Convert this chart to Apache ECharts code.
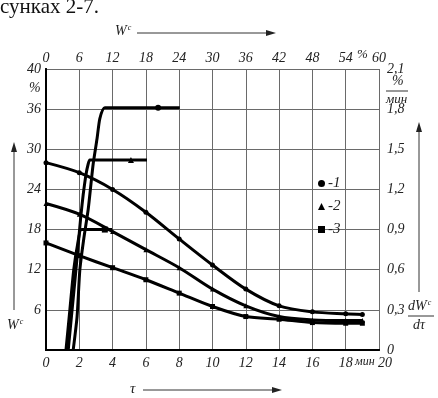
<!DOCTYPE html>
<html>
<head>
<meta charset="utf-8">
<script src="https://cdn.jsdelivr.net/npm/echarts@6/dist/echarts.min.js"></script>
<style>
  html, body { margin: 0; padding: 0; background: #fff; }
  #chart { width: 438px; height: 398px; }
</style>
</head>
<body>
<div id="chart"></div>
<script>
  // время сушки, мин
  var tau = [0, 2, 4, 6, 8, 10, 12, 14, 16, 18, 19];
  // влагосодержание W^c, % (левая ось)
  var moist1 = [28, 26.5, 24, 20.6, 16.6, 12.7, 9.1, 6.6, 5.7, 5.4, 5.3];
  var moist2 = [21.9, 20.3, 17.7, 15, 12.3, 9.1, 6.6, 5, 4.5, 4.4, 4.4];
  var moist3 = [16, 14.1, 12.3, 10.5, 8.5, 6.5, 5, 4.6, 4.1, 4.0, 4.0];
  // скорость сушки dW/dτ, %/мин (правая ось) от W^c (верхняя ось)
  var rateW1 = [4.9, 5.6, 6.1, 6.8, 7.6, 8.1, 8.5, 9.2, 9.7, 10.6, 20.2, 24.1];
  var rate1 = [0, 0.25, 0.6, 0.83, 1.05, 1.24, 1.39, 1.58, 1.73, 1.81, 1.81, 1.81];
  var rateW2 = [4.0, 4.7, 5.4, 5.9, 6.3, 6.7, 7.2, 7.6, 7.9, 15.3, 18.2];
  var rate2 = [0, 0.3, 0.6, 0.83, 1.01, 1.16, 1.31, 1.39, 1.42, 1.42, 1.42];
  var rateW3 = [3.6, 4.3, 5.0, 5.7, 6.4, 10.6, 11.9];
  var rate3 = [0, 0.3, 0.6, 0.79, 0.9, 0.9, 0.9];
  var rateMark = [10, 9, 5]; // точки с маркером на горизонтальных участках

  var names = ['-1', '-2', '-3'];
  var shapes = ['circle', 'triangle', 'rect'];
  var font = 'Liberation Serif';
  var lbl = { color: '#222', fontFamily: font, fontStyle: 'italic', fontSize: 14 };

  function pairs(xs, ys, mark) {
    return xs.map(function (x, i) {
      var p = { value: [x, ys[i]] };
      if (mark !== undefined) p.symbolSize = (i === mark) ? 6 : 0;
      return p;
    });
  }

  var series = [];
  [moist1, moist2, moist3].forEach(function (m, k) {
    series.push({
      name: names[k], type: 'line', xAxisIndex: 0, yAxisIndex: 0,
      smooth: 0.3,
      symbol: shapes[k], symbolSize: 5,
      lineStyle: { color: '#000', width: 3 },
      itemStyle: { color: '#000' },
      data: pairs(tau, m)
    });
  });
  [[rateW1, rate1], [rateW2, rate2], [rateW3, rate3]].forEach(function (r, k) {
    series.push({
      name: names[k], type: 'line', xAxisIndex: 1, yAxisIndex: 1,
      smooth: 0.2,
      symbol: shapes[k], symbolSize: 0,
      lineStyle: { color: '#000', width: 3 },
      itemStyle: { color: '#000' },
      data: pairs(r[0], r[1], rateMark[k])
    });
  });

  var axisLine = { show: true, lineStyle: { color: '#000', width: 2 } };
  var split = { show: true, lineStyle: { color: '#6a6a6a', width: 1 } };
  var sup = {
    a: { fontFamily: font, fontStyle: 'italic', fontSize: 14, fill: '#222' },
    b: { fontFamily: font, fontStyle: 'italic', fontSize: 8, fill: '#222', verticalAlign: 'top', padding: [0, 0, 7, 1] }
  };

  var chart = echarts.init(document.getElementById('chart'));
  chart.setOption({
    animation: false,
    backgroundColor: '#fff',
    grid: { left: 46, right: 59, top: 69, bottom: 48 },
    legend: {
      orient: 'vertical', left: 313, top: 171,
      itemWidth: 7, itemHeight: 7, itemGap: 8,
      data: names.map(function (n, i) { return { name: n, icon: shapes[i] }; }),
      textStyle: { color: '#222', fontFamily: font, fontStyle: 'italic', fontSize: 15, padding: [0, 0, 0, -2] },
      selectedMode: false
    },
    xAxis: [{
      type: 'value', position: 'bottom', min: 0, max: 20, interval: 2,
      axisLine: axisLine, axisTick: { show: false }, splitLine: split,
      axisLabel: Object.assign({
        margin: 6,
        formatter: function (v) { return v === 20 ? '{r|20}' : String(v); },
        rich: { r: { fontFamily: font, fontStyle: 'italic', fontSize: 14, color: '#222', padding: [0, 0, 0, 12] } }
      }, lbl)
    }, {
      type: 'value', position: 'top', min: 0, max: 60, interval: 6,
      axisLine: axisLine, axisTick: { show: false }, splitLine: { show: false },
      axisLabel: Object.assign({ margin: 4 }, lbl)
    }],
    yAxis: [{
      type: 'value', position: 'left', min: 0, max: 42, interval: 6,
      axisLine: axisLine, axisTick: { show: false }, splitLine: split,
      axisLabel: Object.assign({
        margin: 5,
        formatter: function (v) { return v === 0 ? '' : (v === 42 ? '40' : String(v)); }
      }, lbl)
    }, {
      type: 'value', position: 'right', min: 0, max: 2.1, interval: 0.3,
      axisLine: axisLine, axisTick: { show: false }, splitLine: { show: false },
      axisLabel: Object.assign({
        margin: 8,
        formatter: function (v) { return v === 0 ? '0' : v.toFixed(1).replace('.', ','); }
      }, lbl)
    }],
    graphic: [
      { type: 'text', left: 0, top: -3, style: { text: 'сунках 2-7.', fill: '#111', font: '21px "Liberation Serif"' } },
      // верхняя подпись W^c со стрелкой
      { type: 'text', left: 115, top: 24, style: { text: '{a|W}{b|c}', rich: sup } },
      { type: 'line', shape: { x1: 137, y1: 33, x2: 268, y2: 33 }, style: { stroke: '#333', lineWidth: 1 } },
      { type: 'polygon', shape: { points: [[276, 33], [266, 30], [266, 36]] }, style: { fill: '#222' } },
      // левая стрелка
      { type: 'line', shape: { x1: 14, y1: 310, x2: 14, y2: 150 }, style: { stroke: '#333', lineWidth: 1 } },
      { type: 'polygon', shape: { points: [[14, 142], [11, 152], [17, 152]] }, style: { fill: '#222' } },
      { type: 'text', left: 7, top: 318, style: { text: '{a|W}{b|c}', rich: sup } },
      { type: 'text', left: 29, top: 81, style: { text: '%', fill: '#222', font: 'italic 14px "Liberation Serif"' } },
      // нижняя подпись τ со стрелкой
      { type: 'text', left: 130, top: 382, style: { text: 'τ', fill: '#222', font: 'italic 15px "Liberation Serif"' } },
      { type: 'line', shape: { x1: 143, y1: 390, x2: 274, y2: 390 }, style: { stroke: '#333', lineWidth: 1 } },
      { type: 'polygon', shape: { points: [[282, 390], [272, 387], [272, 393]] }, style: { fill: '#222' } },
      { type: 'text', left: 355, top: 356, style: { text: 'мин', fill: '#222', font: 'italic 12px "Liberation Serif"' } },
      { type: 'text', left: 357, top: 48, style: { text: '%', fill: '#222', font: 'italic 13px "Liberation Serif"' } },
      // правая ось: %/мин и dW^c/dτ
      { type: 'text', left: 392, top: 74, style: { text: '%', fill: '#222', font: 'italic 14px "Liberation Serif"' } },
      { type: 'line', shape: { x1: 386, y1: 91, x2: 408, y2: 91 }, style: { stroke: '#333', lineWidth: 1 } },
      { type: 'text', left: 386, top: 93, style: { text: 'мин', fill: '#222', font: 'italic 13px "Liberation Serif"' } },
      { type: 'line', shape: { x1: 419, y1: 292, x2: 419, y2: 130 }, style: { stroke: '#333', lineWidth: 1 } },
      { type: 'polygon', shape: { points: [[419, 122], [416, 132], [422, 132]] }, style: { fill: '#222' } },
      { type: 'text', left: 408, top: 299, style: { text: '{a|dW}{b|c}', rich: sup } },
      { type: 'line', shape: { x1: 408, y1: 316, x2: 434, y2: 316 }, style: { stroke: '#333', lineWidth: 1 } },
      { type: 'text', left: 413, top: 318, style: { text: 'dτ', fill: '#222', font: 'italic 14px "Liberation Serif"' } }
    ],
    series: series
  });
</script>
</body>
</html>
